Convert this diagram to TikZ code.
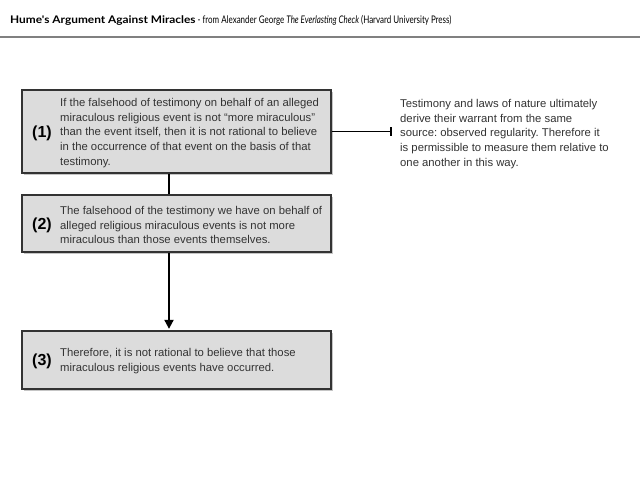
\documentclass[tikz,border=0pt]{standalone}
\usepackage{fontspec}
\setmainfont{Liberation Sans}
\newfontfamily\headfont{Lato}
\usetikzlibrary{shadows,arrows.meta}
\definecolor{boxgray}{HTML}{DCDCDC}
\definecolor{txtgray}{HTML}{333333}
\definecolor{rulegray}{HTML}{808080}
\frenchspacing
\begin{document}
\begin{tikzpicture}[x=1pt,y=-1pt,
  argbox/.style={draw=black!80, line width=1.3pt, fill=boxgray, rectangle,
    minimum width=309pt, inner sep=0pt,
    drop shadow={shadow xshift=1.5pt, shadow yshift=-1.8pt, opacity=0.45}},
  argnum/.style={anchor=center, font=\fontsize{16}{18}\selectfont\bfseries, text=black, inner sep=0pt},
  argtext/.style={anchor=west, align=left, font=\fontsize{11.3}{14.8}\selectfont, text=txtgray, inner sep=0pt},
  conn/.style={line width=1.9pt, black},
]
\path[fill=white] (0,0) rectangle (640,480);
\useasboundingbox (0,0) rectangle (640,480);

% header
\node[anchor=base west, inner sep=0pt, font=\headfont\fontsize{10.5}{12}\selectfont] (head) at (10,23)
  {\scalebox{1.13}[1]{\bfseries Hume's Argument Against Miracles}\scalebox{0.76}[1]{ - from Alexander George \textit{The Everlasting Check} (Harvard University Press)}};
\coordinate (rl) at (0,37);
\coordinate (rr) at (640,37);
\draw[rulegray, line width=1.5pt] (rl) -- (rr);

% boxes
\node[argbox, minimum height=83pt] (b1) at (176.5,131.5) {};
\node[argbox, minimum height=57pt] (b2) at (176.5,223.5) {};
\node[argbox, minimum height=58pt] (b3) at (176.5,360) {};

\node[argnum] (n1) at (42,133) {(1)};
\node[argnum] (n2) at (42,225) {(2)};
\node[argnum] (n3) at (42,361) {(3)};

\node[argtext] (t1) at (60,133) {If the falsehood of testimony on behalf of an alleged\\
miraculous religious event is not ``more miraculous''\\
than the event itself, then it is not rational to believe\\
in the occurrence of that event on the basis of that\\
testimony.};
\node[argtext] (t2) at (60,225) {The falsehood of the testimony we have on behalf of\\
alleged religious miraculous events is not more\\
miraculous than those events themselves.};
\node[argtext] (t3) at (60,361) {Therefore, it is not rational to believe that those\\
miraculous religious events have occurred.};

\node[argtext] (side) at (400,134) {Testimony and laws of nature ultimately\\
derive their warrant from the same\\
source: observed regularity. Therefore it\\
is permissible to measure them relative to\\
one another in this way.};

% connectors
\coordinate (cx) at (169,0);
\coordinate (barend) at (392,0);
\draw[conn] (b1.south -| cx) -- (b2.north -| cx);
\draw[conn, -{Triangle[width=9pt,length=9pt]}] (b2.south -| cx) -- ([yshift=1.5pt]b3.north -| cx);
\draw[conn, -{Bar[width=9pt]}] (b1.east) -- (b1.east -| barend);
\end{tikzpicture}
\end{document}
